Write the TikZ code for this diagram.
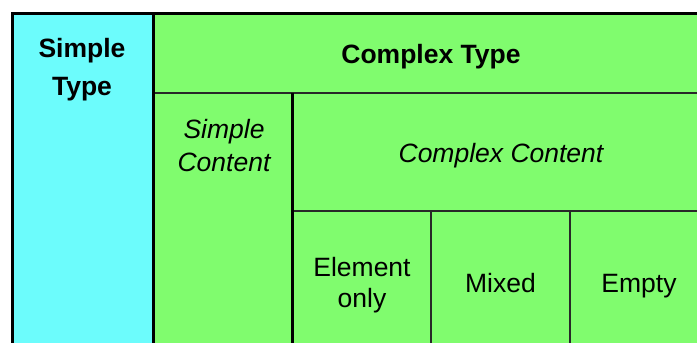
\documentclass[tikz,border=0pt]{standalone}
\usepackage{fontspec}
\setmainfont{Liberation Sans}
\definecolor{cyanfill}{RGB}{108,252,252}
\definecolor{greenfill}{RGB}{128,252,110}
\definecolor{thinline}{RGB}{40,40,40}
\begin{document}
\begin{tikzpicture}[x=1pt,y=-1pt,
  lbl/.style={anchor=base, align=center, inner sep=0pt, text=black},
  bold/.style={lbl, font=\fontsize{26.5}{38}\selectfont\bfseries},
  ital/.style={lbl, font=\fontsize{26.5}{33}\selectfont\itshape},
  plain/.style={lbl, font=\fontsize{26.5}{31}\selectfont},
  thick border/.style={line width=3pt, draw=black},
  thin border/.style={line width=1.6pt, draw=thinline}]
\useasboundingbox (0,0) rectangle (697,343);
\clip (0,0) rectangle (697,343);
% fills
\fill[cyanfill] (12,13) rectangle (153,380);
\fill[greenfill] (153,13) rectangle (740,380);
% inner lines
\draw[thin border] (153,93) -- (740,93);
\draw[thin border] (292,211) -- (740,211);
\draw[thin border] (431,211) -- (431,380);
\draw[thin border] (570,211) -- (570,380);
\draw[thick border] (292,93) -- (292,380);
% outer border
\draw[thick border] (12,380) -- (12,13) -- (740,13);
\draw[thick border] (153,13) -- (153,380);
% labels (base anchor = baseline of last line)
\node[bold] (st) at (82,95) {Simple\\Type};
\node[bold] (ct) at (431,63) {Complex Type};
\node[ital] (sc) at (224,171) {Simple\\Content};
\node[ital] (cc) at (501,162) {Complex Content};
\node[plain] (eo) at (362,307) {Element\\only};
\node[plain] (mx) at (500.5,292) {Mixed};
\node[plain] (em) at (639,292) {Empty};
\end{tikzpicture}
\end{document}
